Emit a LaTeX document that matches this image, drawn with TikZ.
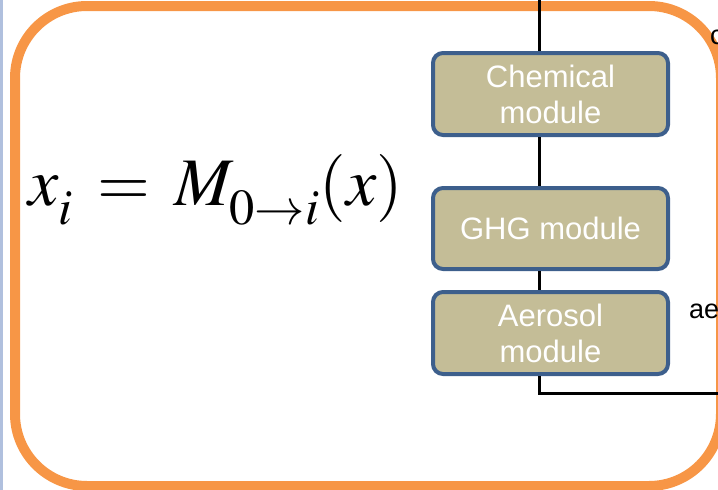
\documentclass[tikz,border=0pt]{standalone}
\usepackage{mathptmx}
\usepackage{fontspec}
\setsansfont{Liberation Sans}

\definecolor{bandorange}{RGB}{247,150,70}
\definecolor{modfill}{RGB}{196,189,151}
\definecolor{modedge}{RGB}{61,95,140}
\definecolor{sidebar}{RGB}{176,192,222}

\newcommand{\lowsub}[1]{_{\lower9pt\hbox{$\scriptstyle #1$}}}

\begin{document}
\begin{tikzpicture}[x=1pt, y=-1pt,
  module/.style={rectangle, rounded corners=10pt, draw=modedge,
    line width=4pt, fill=modfill, text=white, align=center,
    font=\sffamily\fontsize{31}{36}\selectfont,
    minimum width=235pt, minimum height=82pt, inner sep=0pt},
  link/.style={line width=3pt, black},
  side/.style={inner sep=0pt, font=\sffamily\fontsize{27}{30}\selectfont}]
  \useasboundingbox (0,0) rectangle (718,490);
  \fill[sidebar] (0,0) rectangle (3,490);
  \draw[bandorange, line width=10pt, rounded corners=72pt] (15,6) rectangle (721,486);
  % mapping from the initial state
  \node[anchor=base west, inner sep=0pt, font=\fontsize{68}{80}\selectfont]
    (eq) at (28,205) {$x\lowsub{i} \:=\: M\lowsub{0\rightarrow i}(x)$};
  % module chain
  \node[module] (chem) at (550.5,94) {Chemical\\module};
  \node[module, minimum height=81pt] (ghg) at (550.5,228.5) {GHG module};
  \node[module] (aero) at (550.5,333) {Aerosol\\module};
  \coordinate (feed) at (539,0);
  \coordinate (out) at (725,393);
  \draw[link] (feed) -- (feed |- chem.north);
  \draw[link] ([xshift=-11.5pt]chem.south) -- ([xshift=-11.5pt]ghg.north);
  \draw[link] ([xshift=-11.5pt]ghg.south) -- ([xshift=-11.5pt]aero.north);
  \draw[link] ([xshift=-11.5pt]aero.south) |- (out);
  % labels cut by the frame
  \node[side, anchor=base west] (aelab) at (689,318) {ae};
  \node[side, anchor=base west] (clab) at (710,44) {c};
\end{tikzpicture}
\end{document}
